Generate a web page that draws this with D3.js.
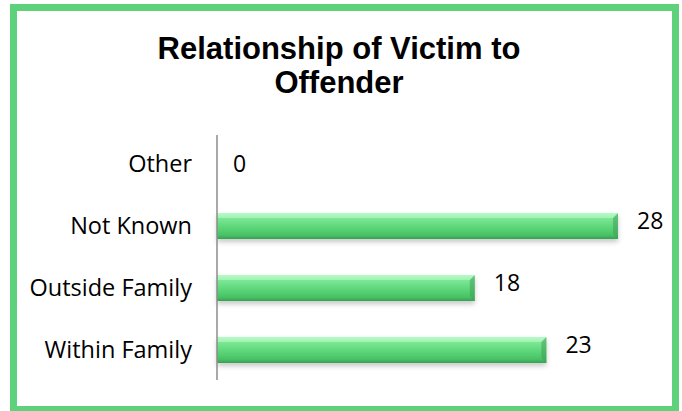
<!DOCTYPE html>
<html>
<head>
<meta charset="utf-8">
<script src="https://cdn.jsdelivr.net/npm/d3@7"></script>
<style>
  html, body { margin: 0; padding: 0; background: #fff; }
  svg { display: block; }
</style>
</head>
<body>
<div id="chart"></div>
<script>
(() => {
    const width = 682, height = 411;

    // 데이터
    const categories = ["Other", "Not Known", "Outside Family", "Within Family"];
    const values = [0, 28, 18, 23];
    const titleLines = ["Relationship of Victim to", "Offender"];

    const frameColor = "#5dd27a";
    const labelFont = "'Open Sans', sans-serif";

    const svg = d3.select("#chart").append("svg")
        .attr("width", width)
        .attr("height", height);

    const defs = svg.append("defs");

    // bar gradient (위쪽 밝고 아래쪽 어두움)
    const grad = defs.append("linearGradient")
        .attr("id", "barGrad")
        .attr("x1", 0).attr("y1", 0).attr("x2", 0).attr("y2", 1);
    [["0%", "#a8f7bb"], ["22%", "#7be694"], ["55%", "#5cd679"], ["85%", "#49c266"], ["100%", "#3a9e53"]]
        .forEach(([o, c]) => grad.append("stop").attr("offset", o).attr("stop-color", c));

    const shadow = defs.append("filter")
        .attr("id", "barShadow")
        .attr("x", "-5%").attr("y", "-30%").attr("width", "110%").attr("height", "180%");
    shadow.append("feDropShadow")
        .attr("dx", 0).attr("dy", 3)
        .attr("stdDeviation", 2.5)
        .attr("flood-color", "#000")
        .attr("flood-opacity", 0.22);

    // frame
    svg.append("rect")
        .attr("x", 13.5).attr("y", 7.5)
        .attr("width", 662).attr("height", 402)
        .attr("fill", "#fff")
        .attr("stroke", frameColor)
        .attr("stroke-width", 7);

    // title
    svg.append("text")
        .attr("x", 339)
        .attr("y", 59)
        .attr("text-anchor", "middle")
        .attr("font-family", "'Liberation Sans', Arial, sans-serif")
        .attr("font-weight", "bold")
        .attr("font-size", 31)
        .attr("fill", "#000")
        .selectAll("tspan")
        .data(titleLines)
        .join("tspan")
        .attr("x", 339)
        .attr("dy", (d, i) => i ? 34 : 0)
        .text(d => d);

    const x = d3.scaleLinear()
        .domain([0, d3.max(values)])
        .range([217, 618]);

    const y = d3.scaleBand()
        .domain(categories)
        .range([133, 381])
        .paddingInner(0.58)
        .paddingOuter(0.29);

    const rows = categories.map((c, i) => ({ name: c, value: values[i] }));

    // bars
    const bars = svg.append("g");
    bars.selectAll("rect")
        .data(rows.filter(d => d.value > 0))
        .join("rect")
        .attr("x", x(0))
        .attr("y", d => y(d.name))
        .attr("width", d => x(d.value) - x(0))
        .attr("height", y.bandwidth())
        .attr("fill", "url(#barGrad)")
        .attr("filter", "url(#barShadow)");

    // bevel on the bar ends
    const bw = y.bandwidth(), bev = 5;
    bars.selectAll("path.bevel")
        .data(rows.filter(d => d.value > 0))
        .join("path")
        .attr("class", "bevel")
        .attr("d", d => {
            const x1 = x(d.value), y0 = y(d.name);
            return `M${x1 - bev},${y0 + bev} L${x1},${y0} L${x1},${y0 + bw} L${x1 - bev},${y0 + bw - bev} Z`;
        })
        .attr("fill", "#3f9f58")
        .attr("opacity", 0.55);
    bars.selectAll("path.topbev")
        .data(rows.filter(d => d.value > 0))
        .join("path")
        .attr("class", "topbev")
        .attr("d", d => {
            const x1 = x(d.value), y0 = y(d.name);
            return `M${x(0)},${y0} L${x1},${y0} L${x1 - bev},${y0 + bev} L${x(0)},${y0 + bev} Z`;
        })
        .attr("fill", "#c8ffd4")
        .attr("opacity", 0.45);

    // axis line
    svg.append("line")
        .attr("x1", x(0)).attr("x2", x(0))
        .attr("y1", 135).attr("y2", 380)
        .attr("stroke", "#8c8c8c")
        .attr("stroke-width", 1.5);

    // category labels
    svg.append("g")
        .selectAll("text")
        .data(rows)
        .join("text")
        .attr("x", 192)
        .attr("y", d => y(d.name) + bw / 2)
        .attr("dy", "0.35em")
        .attr("text-anchor", "end")
        .attr("font-family", labelFont)
        .attr("font-size", 23.5)
        .attr("fill", "#000")
        .text(d => d.name);

    // value labels
    svg.append("g")
        .selectAll("text")
        .data(rows)
        .join("text")
        .attr("x", d => x(d.value) + (d.value ? 19 : 16))
        .attr("y", d => y(d.name) + bw / 2 - (d.value ? 5 : 0))
        .attr("dy", "0.35em")
        .attr("font-family", labelFont)
        .attr("font-size", 23)
        .attr("fill", "#000")
        .text(d => d.value);
})();
</script>
</body>
</html>
